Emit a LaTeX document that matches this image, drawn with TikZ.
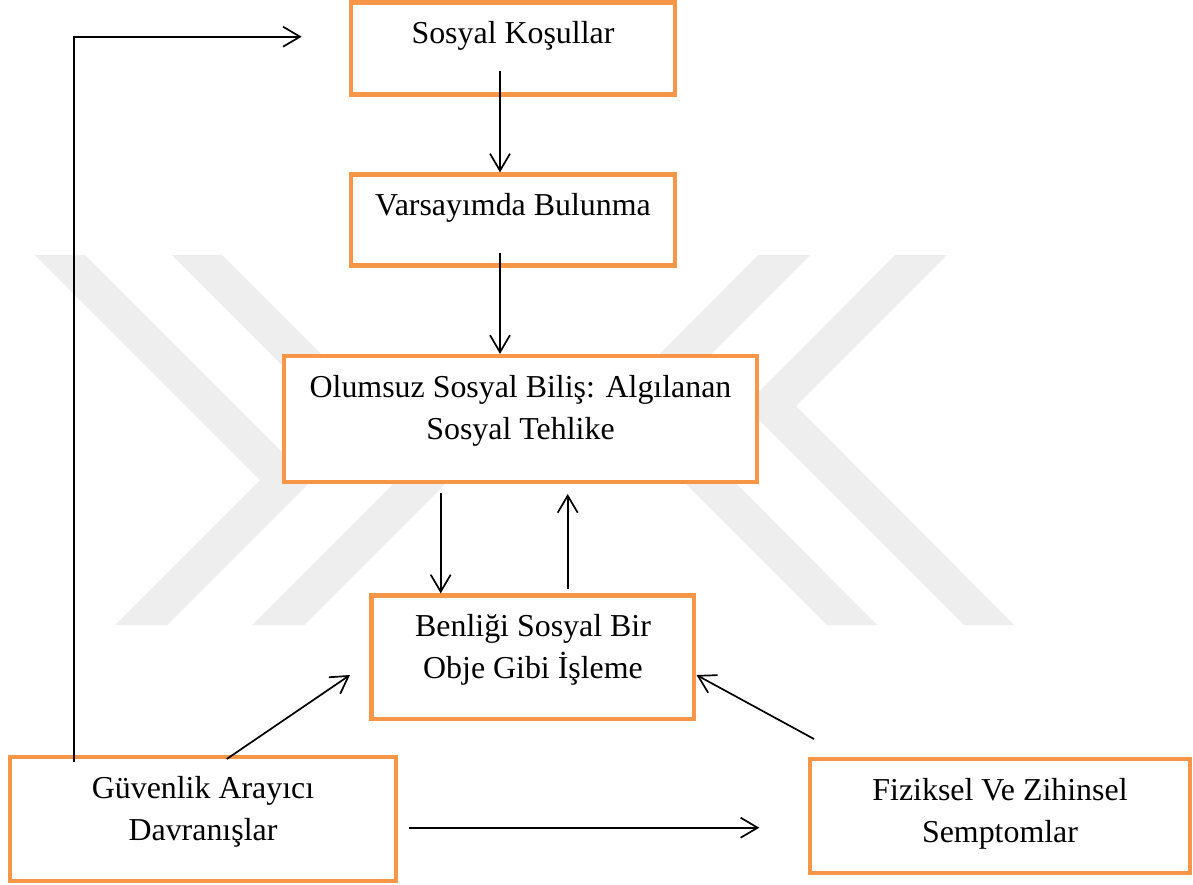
\documentclass[tikz,border=0pt]{standalone}
\usepackage{fontspec}
\setmainfont{Liberation Serif}
\usetikzlibrary{arrows.meta,calc}
\definecolor{boxorange}{RGB}{247,150,70}
\definecolor{wmgray}{RGB}{238,238,238}
\begin{document}
\begin{tikzpicture}[x=1pt,y=-1pt,
  box/.style={draw=boxorange, line width=4.3pt, fill=white, rectangle, inner sep=0pt},
  lbl/.style={font=\fontsize{31.9}{42}\selectfont, align=center, anchor=base, inner sep=0pt},
  conn/.style={line width=1.7pt, -{Straight Barb[length=17pt,width=20pt]}},
  wm/.style={fill=wmgray, draw=none}]
\useasboundingbox (0,0) rectangle (1193,884);
\fill[white] (0,0) rectangle (1193,884);
% watermark
\fill[wm] (35,255) -- (85,255) -- (311,481) -- (167,625) -- (115,625) -- (260,480) -- cycle;
\fill[wm] (172,255) -- (222,255) -- (448,481) -- (304,625) -- (252,625) -- (397,480) -- cycle;
\fill[wm] (895,255) -- (947,255) -- (796,406) -- (1014,625) -- (964,625) -- (745,406) -- cycle;
\fill[wm] (758,255) -- (810,255) -- (659,406) -- (877,625) -- (827,625) -- (608,406) -- cycle;
% boxes
\node[box, minimum width=324pt, minimum height=92pt] (b1) at (513,48.5) {};
\node[box, minimum width=324pt, minimum height=91pt] (b2) at (513,220) {};
\node[box, minimum width=473pt, minimum height=126pt] (b3) at (520.5,419) {};
\node[box, minimum width=322.5pt, minimum height=123.5pt] (b4) at (532.75,657.25) {};
\node[box, minimum width=386pt, minimum height=123.4pt] (b5) at (202.7,819) {};
\node[box, minimum width=380pt, minimum height=114pt] (b6) at (1000,816) {};
% labels (base anchor = baseline of the last line)
\node[lbl] (t1) at (513,43.3) {Sosyal Koşullar};
\node[lbl] (t2) at (513,215) {Varsayımda Bulunma};
\node[lbl] (t3) at (520.5,439) {Olumsuz Sosyal Biliş: Algılanan\\Sosyal Tehlike};
\node[lbl] (t4) at (533,678) {Benliği Sosyal Bir\\Obje Gibi İşleme};
\node[lbl] (t5) at (203,840.7) {Güvenlik Arayıcı\\Davranışlar};
\node[lbl] (t6) at (1000,842.3) {Fiziksel Ve Zihinsel\\Semptomlar};
% connectors
\coordinate (a1s) at (500,71);
\draw[conn] (a1s) -- (a1s |- b2.north);
\coordinate (a2s) at (500,253.3);
\draw[conn] (a2s) -- (a2s |- b3.north);
\coordinate (a3s) at (440.7,493.3);
\draw[conn] (a3s) -- (a3s |- b4.north);
\coordinate (a4s) at (567.7,589.3);
\coordinate (a4e) at (567.7,494);
\draw[conn] (a4s) -- (a4e);
\coordinate (a5s) at (74,761.7);
\coordinate (a5e) at (301.7,36.7);
\draw[conn] (a5s) |- (a5e);
\coordinate (a6s) at (226.7,759);
\coordinate (a6e) at (350,675);
\draw[conn] (a6s) -- (a6e);
\coordinate (a7s) at (814,739);
\coordinate (a7e) at (696.5,675);
\draw[conn] (a7s) -- (a7e);
\coordinate (a8s) at (409.3,827.7);
\coordinate (a8e) at (759.3,827.7);
\draw[conn] (a8s) -- (a8e);
\end{tikzpicture}
\end{document}
